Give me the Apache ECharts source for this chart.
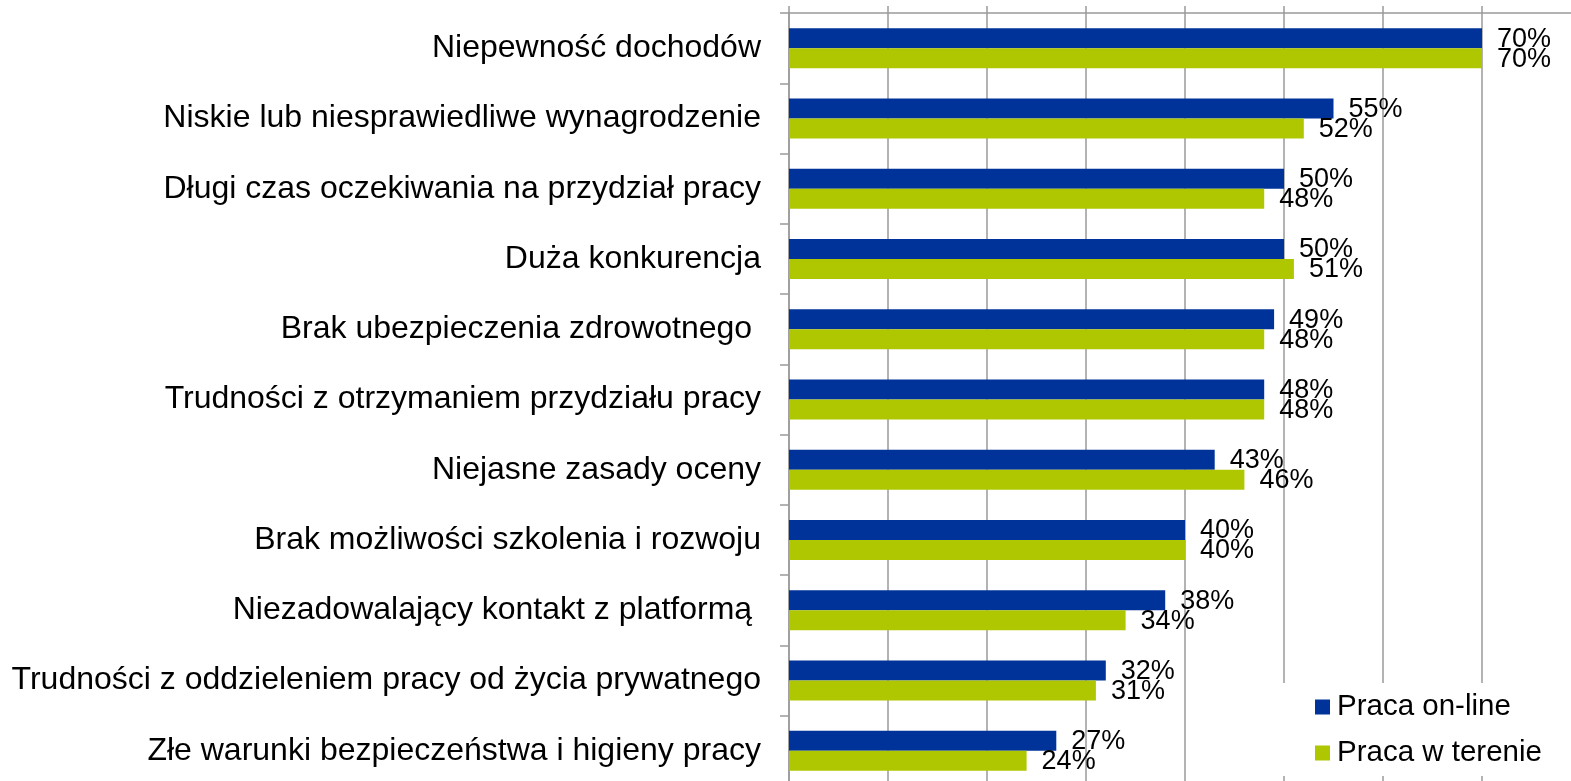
<!DOCTYPE html>
<html>
<head>
<meta charset="utf-8">
<script src="https://cdn.jsdelivr.net/npm/echarts@6/dist/echarts.min.js"></script>
<style>
html,body{margin:0;padding:0;background:#fff;}
#chart{width:1571px;height:781px;}
</style>
</head>
<body>
<div id="chart"></div>
<script>
const categories = [
  "Niepewność dochodów",
  "Niskie lub niesprawiedliwe wynagrodzenie",
  "Długi czas oczekiwania na przydział pracy",
  "Duża konkurencja",
  "Brak ubezpieczenia zdrowotnego ",
  "Trudności z otrzymaniem przydziału pracy",
  "Niejasne zasady oceny",
  "Brak możliwości szkolenia i rozwoju",
  "Niezadowalający kontakt z platformą ",
  "Trudności z oddzieleniem pracy od życia prywatnego",
  "Złe warunki bezpieczeństwa i higieny pracy"
];
const seriesNames = ["Praca on-line", "Praca w terenie"];
const onlineValues = [70, 55, 50, 50, 49, 48, 43, 40, 38, 32, 27];
const terenValues = [70, 52, 48, 51, 48, 48, 46, 40, 34, 31, 24];

const FONT = "'Liberation Sans', Arial, sans-serif";
const axisGray = '#9a9a9a';

const chart = echarts.init(document.getElementById('chart'));
const labelCfg = {
  show: true,
  position: 'right',
  distance: 15,
  offset: [0, 1],
  formatter: '{c}%',
  color: '#000',
  fontSize: 27,
  fontFamily: FONT
};
chart.setOption({
  animation: false,
  backgroundColor: '#fff',
  grid: { left: 789, top: 13, width: 792, height: 773, containLabel: false, outerBoundsMode: 'none' },
  xAxis: {
    type: 'value',
    position: 'top',
    min: 0, max: 80, interval: 10,
    axisLabel: { show: false },
    axisLine: { show: true, lineStyle: { color: axisGray, width: 1.5 } },
    axisTick: { show: true, length: 7, lineStyle: { color: axisGray, width: 1.5 } },
    splitLine: { show: true, lineStyle: { color: axisGray, width: 1.5 } }
  },
  yAxis: {
    type: 'category',
    inverse: true,
    data: categories,
    axisLine: { show: true, lineStyle: { color: axisGray, width: 1.5 } },
    axisTick: { show: true, length: 9, lineStyle: { color: axisGray, width: 1.5 } },
    axisLabel: { color: '#000', fontSize: 32, fontFamily: FONT, margin: 28 }
  },
  legend: {
    orient: 'vertical',
    left: 1270,
    top: 683,
    backgroundColor: '#fff',
    padding: [9, 30, 8, 45],
    itemWidth: 15,
    itemHeight: 15,
    itemGap: 16,
    icon: 'rect',
    data: seriesNames,
    textStyle: { color: '#000', fontSize: 29.5, lineHeight: 30, fontFamily: FONT, padding: [0, 0, 0, 2] }
  },
  series: [
    {
      name: seriesNames[0],
      type: 'bar',
      data: onlineValues,
      barWidth: 20,
      barGap: '0%',
      itemStyle: { color: '#003399' },
      label: labelCfg
    },
    {
      name: seriesNames[1],
      type: 'bar',
      data: terenValues,
      barWidth: 20,
      barGap: '0%',
      itemStyle: { color: '#AFC700' },
      label: labelCfg
    }
  ]
});
</script>
</body>
</html>
